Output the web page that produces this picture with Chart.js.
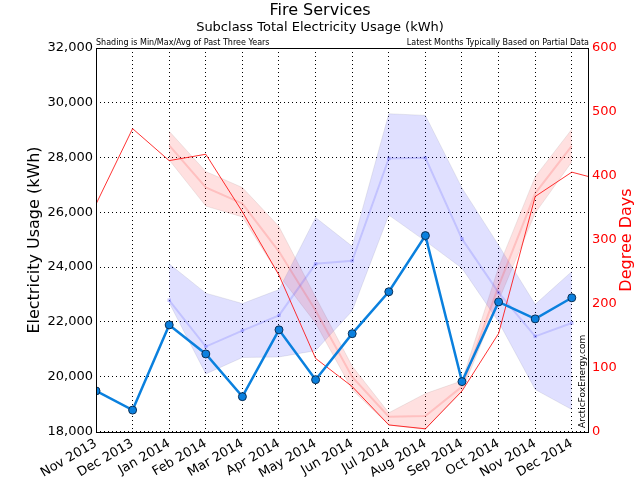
<!DOCTYPE html>
<html>
<head>
<meta charset="utf-8">
<script src="https://cdn.jsdelivr.net/npm/chart.js@4"></script>
<style>
  html, body { margin: 0; padding: 0; background: #fff; }
</style>
</head>
<body>
<canvas id="mychart" width="640" height="480"></canvas>
<script>
var months = ['Nov 2013', 'Dec 2013', 'Jan 2014', 'Feb 2014', 'Mar 2014', 'Apr 2014', 'May 2014',
  'Jun 2014', 'Jul 2014', 'Aug 2014', 'Sep 2014', 'Oct 2014', 'Nov 2014', 'Dec 2014'];

// electricity usage (kWh)
var usage = [19480, 18780, 21890, 20830, 19270, 21710, 19890, 21570, 23100, 25150, 19820, 22730, 22110, 22880];
var usageAvg = [null, null, 22790, 21100, 21680, 22240, 24120, 24230, 27970, 27990, 25030, 23070, 21470, 21960];
var usageMax = [null, null, 24120, 23050, 22670, 23180, 25810, 24760, 29600, 29540, 26890, 24800, 22640, 23840];
var usageMin = [null, null, 22700, 20100, 20700, 20720, 20950, 22400, 25900, 24950, 23960, 22000, 19530, 18800];

// degree days (last value is the following month, runs off the right edge)
var degreeDays = [356, 474, 424, 434, 344, 245, 115, 71, 11, 5, 64, 154, 368, 406, 391];
var ddAvg = [null, null, 448, 382, 357, 282, 190, 86, 24, 25, 71, 228, 373, 447];
var ddMax = [null, null, 470, 407, 382, 321, 211, 103, 30, 60, 80, 258, 399, 473];
var ddMin = [null, null, 425, 353, 336, 245, 170, 66, 11, 4, 64, 205, 342, 422];

var usageTicks = [18000, 20000, 22000, 24000, 26000, 28000, 30000, 32000];
var ddTicks = [0, 100, 200, 300, 400, 500, 600];

function pts(arr) {
  return arr.map(function (v, i) { return { x: i, y: v }; });
}

var FONT = "'DejaVu Sans', sans-serif";

var textPlugin = {
  id: 'texts',
  afterDraw: function (chart) {
    var c = chart.ctx;
    var a = chart.chartArea;
    c.save();
    // frame
    c.strokeStyle = '#000';
    c.lineWidth = 1;
    c.strokeRect(a.left + 0.5, a.top + 0.5, a.right - a.left - 1, a.bottom - a.top);

    c.fillStyle = '#000';
    c.textBaseline = 'middle';
    c.textAlign = 'center';
    c.font = '16px ' + FONT;
    c.fillText('Fire Services', 320, 11);
    c.font = '13px ' + FONT;
    c.fillText('Subclass Total Electricity Usage (kWh)', 320, 28);

    c.font = '8px ' + FONT;
    c.textAlign = 'left';
    c.fillText('Shading is Min/Max/Avg of Past Three Years', a.left, 43);
    c.textAlign = 'right';
    c.fillText('Latest Months Typically Based on Partial Data', a.right, 43);

    var midY = (a.top + a.bottom) / 2;
    c.save();
    c.translate(35, midY);
    c.rotate(-Math.PI / 2);
    c.textAlign = 'center';
    c.font = '16px ' + FONT;
    c.fillText('Electricity Usage (kWh)', 0, 0);
    c.restore();

    c.save();
    c.translate(627, midY);
    c.rotate(-Math.PI / 2);
    c.textAlign = 'center';
    c.fillStyle = '#ff0000';
    c.font = '16px ' + FONT;
    c.fillText('Degree Days', 0, 0);
    c.restore();

    c.save();
    c.translate(a.right - 6, a.bottom - 4);
    c.rotate(-Math.PI / 2);
    c.textAlign = 'left';
    c.font = '9px ' + FONT;
    c.fillText('ArcticFoxEnergy.com', 0, 0);
    c.restore();

    c.restore();
  }
};

var gridStyle = { color: '#000', lineWidth: 1, drawTicks: false };
var dash = [1, 3];

var chart = new Chart(document.getElementById('mychart').getContext('2d'), {
  type: 'line',
  data: {
    datasets: [
      {
        label: 'Usage',
        data: pts(usage),
        yAxisID: 'y',
        borderColor: 'rgb(10,128,222)',
        borderWidth: 2.5,
        pointRadius: 4,
        pointBackgroundColor: 'rgb(10,128,222)',
        pointBorderColor: '#0b2f55',
        pointBorderWidth: 1,
        fill: false,
        order: 0
      },
      {
        label: 'Degree Days',
        data: pts(degreeDays),
        yAxisID: 'y1',
        borderColor: 'rgba(255,0,0,0.8)',
        borderWidth: 1,
        pointRadius: 0,
        fill: false,
        order: 1
      },
      {
        label: 'Usage Avg',
        data: pts(usageAvg),
        yAxisID: 'y',
        borderColor: 'rgba(60,60,255,0.18)',
        borderWidth: 2,
        pointStyle: 'rect',
        pointRadius: 2.5,
        pointBackgroundColor: 'rgba(60,60,255,0.25)',
        pointBorderWidth: 0,
        fill: false,
        order: 2
      },
      {
        label: 'DD Avg',
        data: pts(ddAvg),
        yAxisID: 'y1',
        borderColor: 'rgba(255,60,60,0.2)',
        borderWidth: 2,
        pointRadius: 0,
        fill: false,
        order: 3
      },
      {
        label: 'Usage Max',
        data: pts(usageMax),
        yAxisID: 'y',
        borderColor: 'rgba(120,120,140,0.15)',
        borderWidth: 1,
        pointRadius: 0,
        backgroundColor: 'rgba(0,0,255,0.12)',
        fill: '+1',
        order: 4
      },
      {
        label: 'Usage Min',
        data: pts(usageMin),
        yAxisID: 'y',
        borderColor: 'rgba(120,120,140,0.15)',
        borderWidth: 1,
        pointRadius: 0,
        fill: false,
        order: 5
      },
      {
        label: 'DD Max',
        data: pts(ddMax),
        yAxisID: 'y1',
        borderColor: 'rgba(140,120,120,0.15)',
        borderWidth: 1,
        pointRadius: 0,
        backgroundColor: 'rgba(255,0,0,0.12)',
        fill: '+1',
        order: 6
      },
      {
        label: 'DD Min',
        data: pts(ddMin),
        yAxisID: 'y1',
        borderColor: 'rgba(140,120,120,0.15)',
        borderWidth: 1,
        pointRadius: 0,
        fill: false,
        order: 7
      }
    ]
  },
  options: {
    responsive: false,
    animation: false,
    devicePixelRatio: 1,
    layout: { padding: { top: 48, left: 0, right: 0, bottom: 0 } },
    plugins: {
      legend: { display: false },
      tooltip: { enabled: false },
      title: { display: false }
    },
    scales: {
      x: {
        type: 'linear',
        min: 0,
        max: 13.47,
        afterBuildTicks: function (scale) {
          scale.ticks = months.map(function (m, i) { return { value: i }; });
        },
        afterFit: function (scale) { scale.height = 48; },
        grid: gridStyle,
        border: { display: false, dash: dash },
        ticks: {
          autoSkip: false,
          minRotation: 30,
          maxRotation: 30,
          padding: 4,
          color: '#000',
          font: { family: FONT, size: 13 },
          callback: function (v) { return months[v]; }
        }
      },
      y: {
        position: 'left',
        min: 17980,
        max: 32000,
        afterBuildTicks: function (scale) {
          scale.ticks = usageTicks.map(function (v) { return { value: v }; });
        },
        afterFit: function (scale) { scale.width = 96; },
        grid: gridStyle,
        border: { display: false, dash: dash },
        ticks: {
          padding: 3,
          color: '#000',
          font: { family: FONT, size: 13 },
          callback: function (v) { return v.toLocaleString('en-US'); }
        }
      },
      y1: {
        position: 'right',
        min: 0,
        max: 600,
        afterBuildTicks: function (scale) {
          scale.ticks = ddTicks.map(function (v) { return { value: v }; });
        },
        afterFit: function (scale) { scale.width = 51; },
        grid: { drawOnChartArea: false, drawTicks: false },
        border: { display: false },
        ticks: {
          padding: 3,
          color: '#ff0000',
          font: { family: FONT, size: 13 }
        }
      }
    }
  },
  plugins: [textPlugin]
});
</script>
</body>
</html>
